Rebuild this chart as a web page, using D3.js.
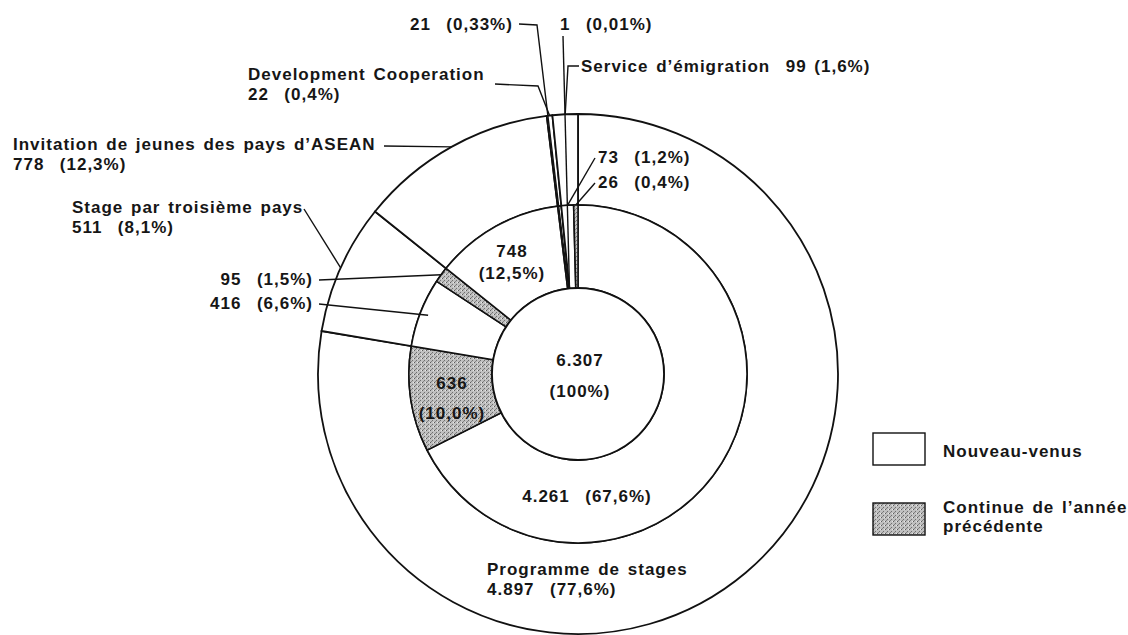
<!DOCTYPE html>
<html>
<head>
<meta charset="utf-8">
<script src="https://cdn.jsdelivr.net/npm/d3@7"></script>
<style>
  body { margin: 0; background: #fff; }
  svg text {
    font-family: "Liberation Sans", Arial, sans-serif;
    font-weight: bold;
    font-size: 17px;
    fill: #161616;
    letter-spacing: 1px;
    word-spacing: 2px;
    white-space: pre;
  }
</style>
</head>
<body>
<svg id="svg" width="1128" height="635"></svg>
<script>
// outer ring: programmes
const programmes = ["Programme de stages", "Stage par troisième pays", "Invitation de jeunes des pays d’ASEAN", "Development Cooperation", "Service d’émigration"];
const programmeValues = [4897, 511, 778, 22, 99];
const programmePct = ["77,6", "8,1", "12,3", "0,4", "1,6"];

// middle ring: every programme split into new arrivals / continuing
const splitParent = [0, 0, 1, 1, 2, 3, 3, 4, 4];
const splitStatus = ["new", "cont", "new", "cont", "new", "new", "cont", "new", "cont"];
const splitValues = [4261, 636, 416, 95, 748, 21, 1, 73, 26];
const splitPct = ["67,6", "10,0", "6,6", "1,5", "12,5", "0,33", "0,01", "1,2", "0,4"];

const total = 6307;
const legendLabels = [["Nouveau-venus"], ["Continue de l’année", "précédente"]];

const cx = 578, cy = 374;
const rIn = 86, rMid = 169, rOut = 260;

const svg = d3.select("#svg");
const num = (v) => d3.format(",")(v).replace(/,/g, ".");
const polar = (a, r) => [cx + r * Math.sin(a), cy - r * Math.cos(a)];
const mid = (d) => (d.startAngle + d.endAngle) / 2;

// stipple pattern for the "continuing" part
const pat = svg.append("defs").append("pattern")
  .attr("id", "stip")
  .attr("width", 4).attr("height", 4)
  .attr("patternUnits", "userSpaceOnUse");
pat.append("rect").attr("width", 4).attr("height", 4).attr("fill", "#c0c0c0");
pat.append("rect").attr("x", 0).attr("y", 0).attr("width", 1).attr("height", 1).attr("fill", "#5e5e5e");
pat.append("rect").attr("x", 2).attr("y", 2).attr("width", 1).attr("height", 1).attr("fill", "#707070");
pat.append("rect").attr("x", 3).attr("y", 0).attr("width", 1).attr("height", 1).attr("fill", "#e8e8e8");
pat.append("rect").attr("x", 1).attr("y", 3).attr("width", 1).attr("height", 1).attr("fill", "#858585");

const fillOf = (s) => s === "cont" ? "url(#stip)" : "#fff";

// outer ring
const outerArcs = d3.pie().sort(null).value((d) => d)(programmeValues);
const outerArc = d3.arc().innerRadius(rMid).outerRadius(rOut);

const g = svg.append("g").attr("transform", `translate(${cx},${cy})`);

g.selectAll(".outer")
  .data(outerArcs)
  .join("path")
  .attr("class", "outer")
  .attr("d", outerArc)
  .attr("fill", "#fff")
  .attr("stroke", "#111")
  .attr("stroke-width", 1.8);

// middle ring, each parent's span shared out between its parts
const splitArcs = [];
outerArcs.forEach((p, i) => {
  const idx = splitParent.map((par, j) => par === i ? j : -1).filter((j) => j >= 0);
  const parts = d3.pie().sort(null)
    .startAngle(p.startAngle).endAngle(p.endAngle)
    .value((j) => splitValues[j])(idx);
  parts.forEach((a) => { splitArcs[a.data] = a; });
});
const midArc = d3.arc().innerRadius(rIn).outerRadius(rMid);

g.selectAll(".split")
  .data(splitArcs)
  .join("path")
  .attr("class", "split")
  .attr("d", midArc)
  .attr("fill", (d) => fillOf(splitStatus[d.data]))
  .attr("stroke", "#111")
  .attr("stroke-width", 1.6);

// centre
g.append("circle").attr("r", rIn).attr("fill", "#fff").attr("stroke", "#111").attr("stroke-width", 1.8);

// leader lines
const line = d3.line();
function leader(pts) {
  svg.append("path")
    .attr("d", line(pts))
    .attr("fill", "none")
    .attr("stroke", "#111")
    .attr("stroke-width", 1.4);
}
function label(x, y, lines, anchor = "start", gap = 20) {
  const t = svg.append("text").attr("text-anchor", anchor);
  lines.forEach((s, k) => {
    t.append("tspan").attr("x", x).attr("y", y + k * gap).text(s);
  });
}

// centre total
label(cx + 2, cy - 8, [num(total), "(100%)"], "middle", 31);

// outer ring labels
const o = outerArcs;
label(487, 575, [programmes[0], `${num(programmeValues[0])}  (${programmePct[0]}%)`]);

label(72, 213, [programmes[1], `${num(programmeValues[1])}  (${programmePct[1]}%)`]);
leader([[304, 209], polar(mid(o[1]), rOut)]);

label(13, 150, [programmes[2], `${num(programmeValues[2])}  (${programmePct[2]}%)`]);
leader([[384, 146], polar(mid(o[2]), rOut)]);

label(248, 80, [programmes[3], `${num(programmeValues[3])}  (${programmePct[3]}%)`]);
leader([[495, 84], [538, 86], polar(mid(o[3]), rOut)]);

label(581, 72, [`${programmes[4]}  ${num(programmeValues[4])} (${programmePct[4]}%)`]);
leader([[579, 66], [568, 66], polar(mid(o[4]), rOut)]);

// middle ring labels
const s = splitArcs;
const txt = (j) => `${num(splitValues[j])}  (${splitPct[j]}%)`;

label(cx + 9, 502, [txt(0)], "middle");

const c1 = midArc.centroid(s[1]);
label(cx + c1[0], cy + c1[1] - 4, [num(splitValues[1]), `(${splitPct[1]}%)`], "middle", 30);

const c4 = midArc.centroid(s[4]);
label(cx + c4[0] - 4, cy + c4[1] - 6, [num(splitValues[4]), `(${splitPct[4]}%)`], "middle", 22);

label(313, 309, [txt(2)], "end");
leader([[319, 304], polar(mid(s[2]), rMid - 8)]);

label(313, 285, [txt(3)], "end");
leader([[319, 280], polar(mid(s[3]), rMid)]);

label(410, 30, [txt(5)]);
leader([[519, 24], [537, 25], polar(mid(s[5]), rIn)]);

label(560, 30, [txt(6)]);
leader([[563, 36], polar(mid(s[6]), rIn)]);

label(598, 163, [txt(7)]);
leader([[595, 158], polar(mid(s[7]), rMid)]);

label(598, 188, [txt(8)]);
leader([[595, 183], polar(mid(s[8]), rMid)]);

// legend
const leg = svg.append("g").attr("transform", "translate(873,433)");
["new", "cont"].forEach((st, k) => {
  leg.append("rect")
    .attr("x", 0).attr("y", k * 70)
    .attr("width", 52).attr("height", 32)
    .attr("fill", fillOf(st))
    .attr("stroke", "#111").attr("stroke-width", 1.4);
  const t = leg.append("text");
  legendLabels[k].forEach((ln, m) => {
    t.append("tspan").attr("x", 70).attr("y", (k === 0 ? 24 : 80) + m * 19).text(ln);
  });
});
</script>
</body>
</html>
